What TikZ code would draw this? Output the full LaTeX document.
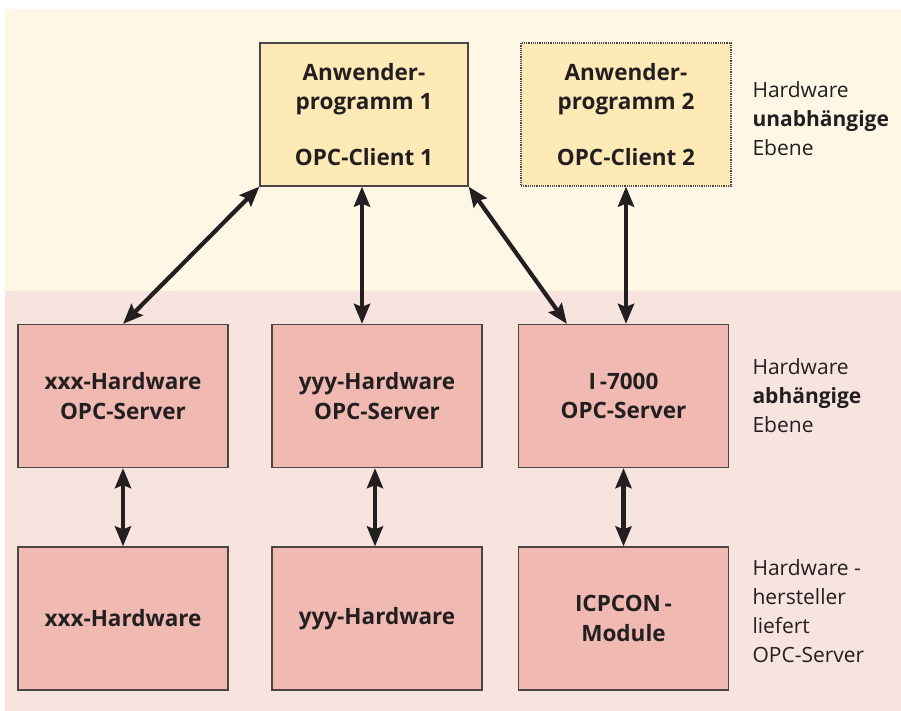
\documentclass[tikz,border=0pt]{standalone}
\usepackage{fontspec}
\setmainfont{Open Sans}
\usetikzlibrary{arrows.meta}

\definecolor{bandtop}{HTML}{FEF7E6}
\definecolor{bandbottom}{HTML}{F8E4DF}
\definecolor{clientfill}{HTML}{FEEAB7}
\definecolor{serverfill}{HTML}{F0B9B1}
\definecolor{boxedge}{HTML}{4D4545}
\definecolor{ink}{HTML}{231F20}

\begin{document}
\begin{tikzpicture}
    [ x=1pt, y=-1pt
    , every node/.style={font=\fontsize{21}{29}\selectfont, text=ink}
    , box/.style={draw=boxedge, line width=1.2pt, shape=rectangle, align=center,
                  minimum width=210pt, minimum height=143pt, font=\fontsize{22.5}{29.5}\selectfont\bfseries}
    , client/.style={box, fill=clientfill}
    , server/.style={box, fill=serverfill}
    , link/.style={draw=ink, line width=4.2pt, {Stealth[length=20pt,width=16pt,inset=3pt]}-{Stealth[length=20pt,width=16pt,inset=3pt]}}
    , level/.style={anchor=west, align=left}
    ]

    \useasboundingbox (0,0) rectangle (901,711);
    \fill [bandtop]    (5,9)   rectangle (901,291);
    \fill [bandbottom] (5,291) rectangle (901,711);

    % clients
    \node [client, minimum width=208pt] (client1) at (364,114.5)
        {Anwender-\\programm 1\\[26pt]OPC-Client 1};
    \node [client, densely dotted] (client2) at (626,114.5)
        {Anwender-\\programm 2\\[26pt]OPC-Client 2};

    % servers
    \node [server] (xxxserver) at (123,396) {xxx-Hardware\\OPC-Server};
    \node [server] (yyyserver) at (377,396) {yyy-Hardware\\OPC-Server};
    \node [server] (iserver)   at (623.5,396) {I\,-7000\\OPC-Server};

    % hardware
    \node [server] (xxxhw) at (123,618.5) {xxx-Hardware};
    \node [server] (yyyhw) at (377,618.5) {yyy-Hardware};
    \node [server] (icpcon) at (623.5,618.5) {ICPCON\,-\\Module};

    \coordinate (ileft) at ([xshift=49pt]iserver.north west);

    \path [link] (client1.south west) -- (xxxserver.north);
    \path [link] ([xshift=-2pt]client1.south) -- ([xshift=-2pt]client1.south |- yyyserver.north);
    \path [link] (client1.south east) -- (ileft);
    \path [link] (client2.south) -- (client2.south |- iserver.north);

    \path [link] (xxxserver) -- (xxxhw);
    \path [link] ([xshift=-2pt]yyyserver.south) -- ([xshift=-2pt]yyyhw.north);
    \path [link] (iserver) -- (icpcon);

    % levels
    \node [level] (top)    at (749,119) {Hardware\\\textbf{unabhängige}\\Ebene};
    \node [level] (middle) at (749,396) {Hardware\\\textbf{abhängige}\\Ebene};
    \node [level] (bottom) at (749,611) {Hardware -\\hersteller\\liefert\\OPC-Server};

  \end{tikzpicture}
\end{document}
